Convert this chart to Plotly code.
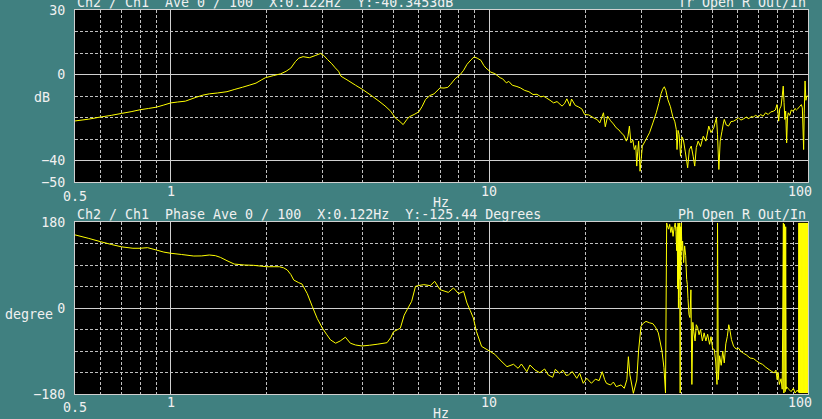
import math
import plotly.graph_objects as go

# ---------------- data ----------------
mag_freq = [
    0.50, 0.55, 0.60, 0.65, 0.70, 0.75, 0.80, 0.85, 0.90, 0.95,
    1.00, 1.05, 1.11, 1.20, 1.26, 1.32, 1.40, 1.50, 1.58, 1.68,
    1.76, 1.85, 1.92, 1.98, 2.10, 2.21, 2.30, 2.38, 2.46, 2.52,
    2.60, 2.72, 2.85, 2.95, 3.02, 3.10, 3.20, 3.28, 3.36, 3.42,
    3.60, 3.80, 4.00, 4.25, 4.50, 4.70, 4.90, 5.07, 5.20, 5.36,
    5.50, 5.60, 5.80, 6.00, 6.15, 6.30, 6.50, 6.70, 7.00, 7.20,
    7.40, 7.55, 7.80, 8.10, 8.30, 8.50, 8.75, 8.95, 9.15, 9.40,
    9.60, 9.75, 10.1, 10.4, 10.8, 11.0, 11.3, 11.5, 11.8, 12.2,
    12.5, 12.9, 13.3, 13.7, 14.1, 14.5, 14.8, 15.1, 15.5, 15.9,
    16.3, 16.9, 17.2, 17.5, 17.9, 18.1, 18.6, 19.0, 19.5, 19.9,
    20.5, 21.2, 21.8, 22.2, 22.8, 23.1, 23.5, 24.0, 24.5, 25.0,
    25.5, 25.9, 26.4, 26.9, 27.2, 27.5, 27.8, 28.2, 28.5, 28.8,
    29.0, 29.2, 29.4, 29.6, 29.7, 30.0, 30.2, 30.8, 31.8, 32.6,
    33.4, 34.0, 34.6, 35.0, 35.4, 35.8, 36.3, 37.0, 37.6, 38.2,
    38.6, 38.8, 39.1, 39.4, 39.8, 40.2, 40.6, 41.2, 41.9, 42.4,
    43.0, 43.6, 44.1, 44.6, 45.2, 46.0, 46.9, 47.8, 48.8, 49.6,
    50.6, 51.1, 51.6, 52.0, 52.5, 53.0, 53.7, 54.2, 54.6, 55.4,
    56.3, 57.3, 58.4, 59.5, 60.5, 61.6, 62.8, 64.0, 65.2, 66.2,
    67.3, 68.5, 69.8, 71.0, 72.3, 73.6, 75.0, 76.4, 77.8, 79.0,
    79.9, 80.4, 80.9, 81.5, 82.3, 83.0, 83.6, 84.1, 84.6, 85.1,
    85.7, 86.2, 86.7, 87.6, 88.6, 89.9, 91.0, 92.0, 92.8, 94.0,
    95.3, 96.0, 96.9, 97.3, 97.9, 98.5, 99.2, 100.0,
]
mag_db = [
    -21.6, -20.8, -19.8, -19.0, -18.1, -17.3, -16.4, -15.8, -15.2, -14.2,
    -13.2, -12.8, -12.4, -10.6, -9.6, -9.0, -8.6, -8.0, -7.0, -5.9,
    -5.0, -4.0, -2.6, -1.5, -0.5, 0.3, 1.5, 3.0, 6.0, 7.6,
    8.3, 7.8, 8.9, 9.8, 8.8, 7.0, 5.0, 3.1, 1.5, -0.8,
    -2.8, -5.0, -7.0, -9.7, -12.4, -14.6, -17.1, -20.3, -21.5, -23.3,
    -21.0, -19.7, -18.6, -17.4, -14.8, -11.6, -9.8, -9.0, -6.2, -6.3,
    -6.0, -4.6, -2.0, 0.0, 2.0, 4.7, 6.8, 8.2, 7.6, 6.6,
    4.2, 3.0, 1.1, 0.4, -1.5, -2.0, -3.9, -3.2, -5.0, -5.6,
    -6.2, -7.4, -8.0, -9.3, -9.2, -10.4, -10.1, -10.9, -12.0, -13.2,
    -12.6, -14.7, -13.6, -11.3, -14.7, -11.4, -14.4, -15.0, -16.0, -18.6,
    -18.8, -20.1, -21.0, -22.5, -17.8, -24.3, -19.4, -21.5, -23.0, -24.8,
    -25.8, -27.1, -28.2, -31.0, -29.0, -24.0, -31.8, -30.5, -34.9, -33.0,
    -42.6, -36.0, -31.0, -40.0, -45.0, -38.0, -33.3, -31.0, -27.1, -22.5,
    -17.8, -13.5, -8.8, -6.8, -5.7, -7.5, -11.6, -15.0, -19.4, -22.0,
    -25.6, -34.9, -26.0, -27.9, -38.0, -29.0, -30.2, -36.0, -43.4, -35.0,
    -33.3, -38.0, -42.6, -34.0, -31.0, -33.5, -28.7, -31.0, -24.0, -27.0,
    -24.8, -22.5, -20.1, -28.0, -44.2, -31.0, -26.4, -23.0, -20.9, -23.5,
    -24.0, -21.9, -21.7, -21.0, -20.2, -21.2, -20.6, -19.8, -20.6, -19.6,
    -19.8, -19.0, -19.8, -18.6, -19.4, -17.8, -18.6, -17.4, -17.1, -16.5,
    -14.0, -17.0, -21.7, -16.0, -14.7, -10.0, -5.4, -13.0, -20.9, -17.0,
    -31.8, -20.0, -17.8, -19.0, -16.5, -17.1, -15.8, -16.5, -16.0, -15.0,
    -14.0, -15.5, -34.9, -18.0, -3.0, -12.0, -10.0, -10.1,
]

ph_freq = [
    0.50, 0.55, 0.60, 0.65, 0.70, 0.76, 0.80, 0.845, 0.90, 0.95,
    1.00, 1.08, 1.18, 1.25, 1.32, 1.38, 1.43, 1.50, 1.58, 1.70,
    1.82, 2.00, 2.19, 2.26, 2.32, 2.38, 2.43, 2.52, 2.58, 2.68,
    2.78, 2.88, 2.99, 3.08, 3.17, 3.29, 3.40, 3.53, 3.66, 3.80,
    3.98, 4.20, 4.44, 4.77, 4.90, 5.00, 5.25, 5.40, 5.51, 5.70,
    5.86, 6.00, 6.22, 6.52, 6.73, 7.00, 7.43, 7.71, 8.00, 8.30,
    8.50, 8.70, 8.90, 9.10, 9.45, 10.05, 10.4, 10.8, 11.35, 11.9,
    12.3, 12.6, 13.1, 13.4, 13.9, 14.4, 14.9, 15.3, 15.8, 16.1,
    16.6, 17.0, 17.4, 17.7, 18.2, 18.8, 19.2, 19.7, 20.2, 20.9,
    21.5, 22.1, 22.6, 23.0, 23.3, 24.0, 24.5, 25.0, 25.9, 26.5,
    27.0, 27.3, 27.6, 27.8, 28.3, 29.0, 29.4, 29.9, 30.4, 31.0,
    31.8, 32.6, 33.2, 33.9, 34.8, 35.3, 35.7, 36.0, 36.2, 36.5,
    36.8, 37.1, 37.4, 37.7, 38.0, 38.3, 38.5, 38.7, 38.85, 39.0,
    39.1, 39.2, 39.3, 39.4, 39.5, 39.6, 39.7, 39.8, 39.9, 40.0,
    40.2, 40.4, 40.7, 41.0, 41.3, 41.6, 41.8, 42.0, 42.3, 42.6,
    42.9, 43.2, 43.5, 43.8, 44.2, 44.6, 45.0, 45.5, 46.0, 46.6,
    47.2, 47.8, 48.4, 49.1, 49.6, 50.2, 50.8, 51.3, 51.8, 52.0,
    52.3, 52.8, 53.4, 54.0, 54.6, 55.2, 55.8, 56.4, 57.0, 57.5,
    58.4, 59.5, 60.5, 61.6, 62.8, 64.0, 65.8, 67.5, 69.0, 70.4,
    72.0, 73.7, 75.5, 77.0, 78.3, 79.3, 80.0, 80.6, 81.3, 82.3,
    83.0, 83.7, 84.0, 84.4, 84.8, 85.1, 85.4, 85.7, 87.0, 88.5,
    90.0, 91.1, 92.5, 93.4, 93.6, 93.8, 94.0, 94.2, 94.4, 94.6,
    94.8, 95.0, 95.2, 95.4, 95.6, 95.8, 96.0, 96.2, 96.4, 96.6,
    96.8, 97.0, 97.2, 97.4, 97.6, 97.8, 98.0, 98.2, 98.4, 98.6,
    98.8, 99.0, 99.2, 99.4, 99.6, 99.8, 100.0,
]
ph_deg = [
    153, 146, 139, 133, 128, 125, 125, 126.3, 121.4, 117,
    114.5, 112, 108.8, 109, 110.9, 109.5, 106, 99, 92, 90,
    89.3, 86.4, 86.4, 84, 79.5, 70, 58.6, 53, 50.2, 30,
    3, -22, -42.3, -55, -66.7, -73.7, -69, -61.1, -73.7, -77.5,
    -79.5, -78, -75.9, -72.6, -62, -49.6, -42.4, -15, -4, 14,
    45.4, 47, 48.9, 46.8, 55.8, 38.3, 32.7, 41.9, 30, 34.8,
    10.5, -5, -20.9, -49, -80.4, -90.9, -97, -108.8, -122.8, -117.8,
    -126.2, -117.2, -133.3, -119.3, -129.8, -135.4, -127.6, -140.2, -145, -128.3,
    -136.7, -130, -141, -140.2, -133, -147.2, -136.7, -157.6, -147, -157.6,
    -149, -152, -133.3, -150, -157.6, -161.2, -155, -164.7, -161, -168.1,
    -150, -101.9, -140, -150.7, -178.6, -150.7, -87.9, -38.5, -32, -28,
    -31, -32.9, -40, -52, -90, -125, -178, 178, 172, 165,
    175, 158, 170, 150, 168, 178, 160, 120, 170, 40,
    178, 0, 175, 60, 178, 20, -178, 170, 90, 178,
    120, 140, 95, 130, 110, 60, 49, 20, -14, -20,
    38, -160, -30, -50, -69, -35, -40, -56, -45, -69,
    -52, -69, -55, -76, -60, -85, -87, -111, -160, 178,
    -150, -100, -120, -90, -115, -75, -60, -35, -50, -66,
    -80, -86, -84, -91, -95, -98, -104.7, -106, -111, -115,
    -118, -124, -129, -133, -136, -130, -150, -135, -160, -148,
    -170, 178, -178, 175, -175, 170, -170, -165, -170, -175,
    -168, -178, -172, -176, 178, -178, 178, -178, 178, -178,
    178, -178, 178, -178, 178, -178, 178, -178, 178, -178,
    178, -178, 178, -178, 178, -178, 178, -178, 178, -178,
    178, -178, 178, -178, 178, -178, 178,
]

x_tick_vals = [0.5, 1, 10, 100]
x_tick_text = ["0.5", "1", "10", "100"]
x_minor_vals = [0.6, 0.7, 0.8, 0.9, 2, 3, 4, 5, 6, 7, 8, 9,
                20, 30, 40, 50, 60, 70, 80, 90]
db_tick_vals = [30, 0, -40, -50]
db_tick_text = ["30", "0", "\u221240", "\u221250"]
db_minor_vals = [20, 10, -10, -20, -30]
deg_tick_vals = [180, 0, -180]
deg_tick_text = ["180", "0", "\u2212180"]
deg_minor_vals = [135, 90, 45, -45, -90, -135]

header_mag = "Ch2 / Ch1  Ave 0 / 100  X:0.122Hz  Y:-40.3453dB"
header_mag_right = "Tr Open R Out/In"
header_ph = "Ch2 / Ch1  Phase Ave 0 / 100  X:0.122Hz  Y:-125.44 Degrees"
header_ph_right = "Ph Open R Out/In"

assert len(mag_freq) == len(mag_db)
assert len(ph_freq) == len(ph_deg)

# ---------------- layout / style ----------------
W, H = 822, 419
ML, MR, MT, MB = 75, 14, 10, 25
PW = W - ML - MR
PH = H - MT - MB

def fy(py):
    return (H - MB - py) / PH

def fx(px):
    return (px - ML) / PW

BG = "#408080"
FG = "#f0f0f0"
LINE = "#ffff00"
GRID = "#d0d0d0"
GRID_MINOR = "#c0c0c0"
FONT = "DejaVu Sans Mono"
FS = 13.3

fig = go.Figure()
fig.add_trace(go.Scatter(x=mag_freq, y=mag_db, mode="lines",
                         line=dict(color=LINE, width=1, simplify=False),
                         xaxis="x", yaxis="y", hoverinfo="skip"))
fig.add_trace(go.Scatter(x=ph_freq, y=ph_deg, mode="lines",
                         line=dict(color=LINE, width=1, simplify=False),
                         xaxis="x2", yaxis="y2", hoverinfo="skip"))

def xaxis_cfg(anchor):
    return dict(
        type="log", range=[math.log10(0.5), 2], domain=[0, 1], anchor=anchor,
        automargin=False,
        showline=True, mirror=True, linecolor=GRID, linewidth=1,
        tickvals=x_tick_vals, showticklabels=False, ticks="",
        showgrid=True, gridcolor=GRID, gridwidth=1, zeroline=False,
        minor=dict(tickvals=x_minor_vals, showgrid=True, gridcolor=GRID_MINOR,
                   griddash="3px,2px", gridwidth=1, ticks=""),
    )

def yaxis_cfg(anchor, dom, rng, tv, tt, mv):
    return dict(
        domain=dom, range=rng, anchor=anchor, automargin=False,
        showline=True, mirror=True, linecolor=GRID, linewidth=1,
        tickvals=tv, ticktext=tt, ticks="", ticklabelstandoff=6,
        tickfont=dict(family=FONT, size=FS, color=FG),
        showgrid=True, gridcolor=GRID, gridwidth=1, zeroline=False,
        minor=dict(tickvals=mv, showgrid=True, gridcolor=GRID_MINOR,
                   griddash="3px,2px", gridwidth=1, ticks=""),
    )

annotations = []

def text(x, y, s, xref="paper", xanchor="center", xshift=0):
    annotations.append(dict(
        x=x, y=y, xref=xref, yref="paper", text=s, showarrow=False,
        xanchor=xanchor, yanchor="middle", xshift=xshift,
        font=dict(family=FONT, size=FS, color=FG),
    ))

# headers
text(0, fy(3), header_mag, xanchor="left")
text(1, fy(3), header_mag_right, xanchor="right")
text(0, fy(214.5), header_ph, xanchor="left")
text(1, fy(214.5), header_ph_right, xanchor="right")

# x tick labels (0.5 sits lower, 100 pulled inside)
for v, s in zip(x_tick_vals, x_tick_text):
    off = 5 if v == 0.5 else 0
    sh = -8 if v == 100 else 0
    text(math.log10(v), fy(191 + off), s, xref="x", xshift=sh)
    text(math.log10(v), fy(402 + off), s, xref="x2", xshift=sh)

# axis titles
text(fx(441), fy(202), "Hz")
text(fx(441), fy(413), "Hz")
text(fx(42), fy(97), "dB")
text(fx(29), fy(314), "degree")

fig.update_layout(
    template="none",
    width=W, height=H,
    margin=dict(l=ML, r=MR, t=MT, b=MB, pad=0, autoexpand=False),
    paper_bgcolor=BG, plot_bgcolor="#000000",
    showlegend=False,
    xaxis=xaxis_cfg("y"),
    xaxis2=xaxis_cfg("y2"),
    yaxis=yaxis_cfg("x", [fy(182), fy(10)], [-50, 30],
                    db_tick_vals, db_tick_text, db_minor_vals),
    yaxis2=yaxis_cfg("x2", [fy(394), fy(222)], [-180, 180],
                     deg_tick_vals, deg_tick_text, deg_minor_vals),
    annotations=annotations,
    font=dict(family=FONT, size=FS, color=FG),
)

pin_to_corner = (
    "document.documentElement.style.margin='0';"
    "document.body.style.margin='0';"
    "document.body.style.overflow='hidden';"
    "document.body.style.background='" + BG + "';"
    "var d=document.getElementById('{plot_id}');"
    "d.style.position='fixed';d.style.left='0px';d.style.top='0px';"
)

fig.write_html("out.html", post_script=pin_to_corner,
               config={"displayModeBar": False, "staticPlot": True})
